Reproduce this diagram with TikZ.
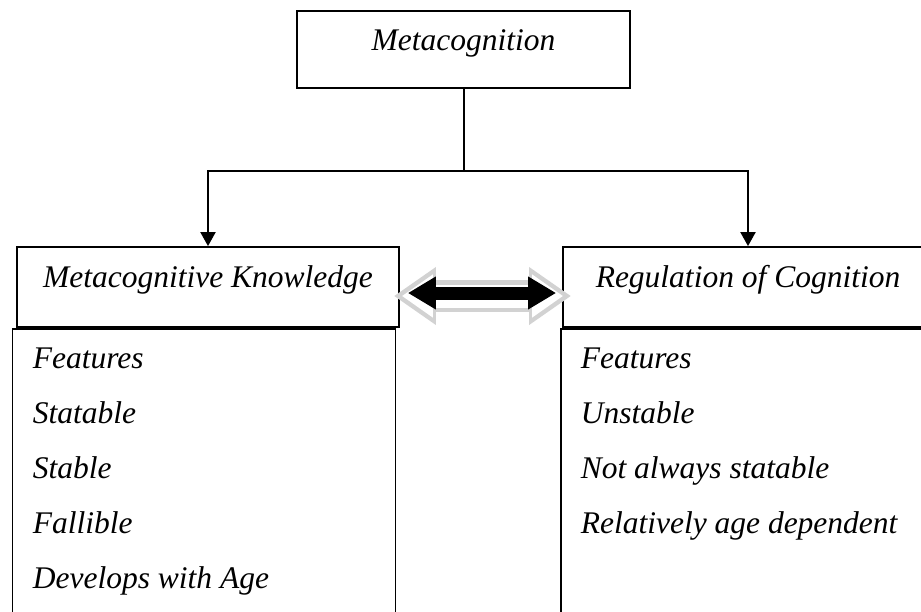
\documentclass[tikz,border=0pt]{standalone}
\usepackage{fontspec}
\setmainfont{Liberation Serif}
\usetikzlibrary{arrows.meta,positioning}
\tikzset{>={Triangle[length=14pt,width=15pt]}}
\tikzset{
  box/.style={draw, line width=1.8pt, inner sep=0pt, font=\fontsize{31.5}{38}\selectfont\itshape},
  head/.style={box, text height=40pt, text depth=40pt},
  listbox/.style={draw, line width=1.8pt, anchor=north west, minimum width=383pt, minimum height=320pt},
  item/.style={anchor=base west, inner sep=0pt, font=\fontsize{31.5}{38}\selectfont\itshape},
  tree/.style={line width=2pt},
  halo/.style={line width=32pt, draw=gray!35, {Triangle[length=42pt,width=55pt]}-{Triangle[length=42pt,width=55pt]}},
  haloin/.style={line width=23pt, draw=white, {Triangle[length=31pt,width=41pt]}-{Triangle[length=31pt,width=41pt]}},
  link/.style={line width=13pt, {Triangle[length=28pt,width=31pt]}-{Triangle[length=28pt,width=31pt]}}
}
\begin{document}
\begin{tikzpicture}[x=1pt,y=-1pt]
\useasboundingbox (0,0) rectangle (921,611);
\clip (0,0) rectangle (921,611);
% boxes
\node[box, minimum width=333pt, text height=39pt, text depth=38pt] (meta) at (463.5,49.5) {Metacognition};
\node[head, minimum width=382pt] (mk) at (208,287) {Metacognitive Knowledge};
\node[head, minimum width=370pt] (rc) at (748,287) {Regulation of Cognition};
\node[listbox] (mkl) at ([xshift=-4.5pt]mk.south west) {};
\node[listbox] (rcl) at ([xshift=-2pt]rc.south west) {};
% features
\foreach \txt [count=\i] in {Features,Statable,Stable,Fallible,Develops with Age}
  \node[item] (mk\i) at ([xshift=21pt,yshift={-41pt-55pt*(\i-1)}]mkl.north west) {\txt};
\foreach \txt [count=\i] in {Features,Unstable,Not always statable,Relatively age dependent}
  \node[item] (rc\i) at ([xshift=20.5pt,yshift={-41pt-55pt*(\i-1)}]rcl.north west) {\txt};
% connectors
\coordinate (fork) at ([yshift=-82pt]meta.south);
\draw[tree] (meta.south) -- (fork);
\draw[tree,->] (fork) -| (mk.north);
\draw[tree,->] (fork) -| (rc.north);
\draw[halo] ([xshift=-6pt,yshift=-9pt]mk.east) -- ([xshift=9pt,yshift=-9pt]rc.west);
\draw[haloin] ([xshift=2pt,yshift=-9pt]mk.east) -- ([xshift=1pt,yshift=-9pt]rc.west);
\draw[link] ([xshift=8pt,yshift=-6pt]mk.east) -- ([xshift=-6pt,yshift=-6pt]rc.west);
\end{tikzpicture}
\end{document}
